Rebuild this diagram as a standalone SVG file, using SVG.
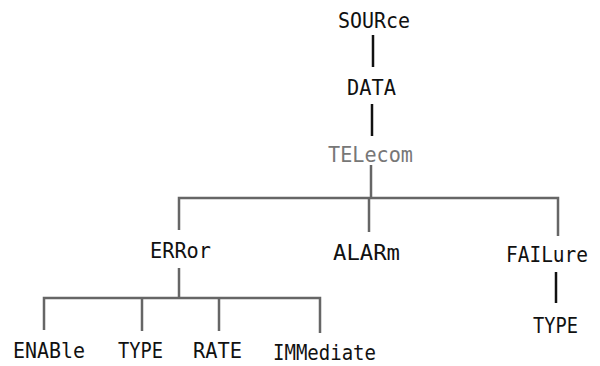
<svg xmlns="http://www.w3.org/2000/svg" width="600" height="366" viewBox="0 0 600 366">
<style>
text{font-family:"DejaVu Sans Mono","Liberation Mono",monospace;font-size:22px;fill:#111}
.g{fill:#777}
.k{stroke:#111;stroke-width:2.5;fill:none}
.c{stroke:#666;stroke-width:2.5;fill:none}
</style>
<rect width="600" height="366" fill="#fff"/>
<g id="connectors">
<path class="k" d="M373,35V67"/>
<path class="k" d="M372,104V136"/>
<path class="k" d="M556,272V303"/>
<path class="c" d="M371,165V198"/>
<path class="c" d="M179,230V198H558V236"/>
<path class="c" d="M369,198V232"/>
<path class="c" d="M179,268V298"/>
<path class="c" d="M44,330V298H320V333"/>
<path class="c" d="M142,298V331"/>
<path class="c" d="M219,298V331"/>
</g>
<g id="source"><text x="338" y="28" textLength="72" lengthAdjust="spacingAndGlyphs">SOURce</text></g>
<g id="data"><text x="347" y="95" textLength="49" lengthAdjust="spacingAndGlyphs">DATA</text></g>
<g id="telecom"><text class="g" x="328" y="162" textLength="85" lengthAdjust="spacingAndGlyphs">TELecom</text></g>
<g id="error"><text x="150" y="258" textLength="61" lengthAdjust="spacingAndGlyphs">ERRor</text></g>
<g id="alarm"><text x="333" y="260" textLength="67" lengthAdjust="spacingAndGlyphs">ALARm</text></g>
<g id="failure"><text x="506" y="262" textLength="82" lengthAdjust="spacingAndGlyphs">FAILure</text></g>
<g id="failure-type"><text x="533" y="333" textLength="45" lengthAdjust="spacingAndGlyphs">TYPE</text></g>
<g id="enable"><text x="13" y="358" textLength="72" lengthAdjust="spacingAndGlyphs">ENABle</text></g>
<g id="error-type"><text x="118" y="358" textLength="45" lengthAdjust="spacingAndGlyphs">TYPE</text></g>
<g id="rate"><text x="193" y="358" textLength="49" lengthAdjust="spacingAndGlyphs">RATE</text></g>
<g id="immediate"><text x="273" y="360" textLength="103" lengthAdjust="spacingAndGlyphs">IMMediate</text></g>
</svg>
